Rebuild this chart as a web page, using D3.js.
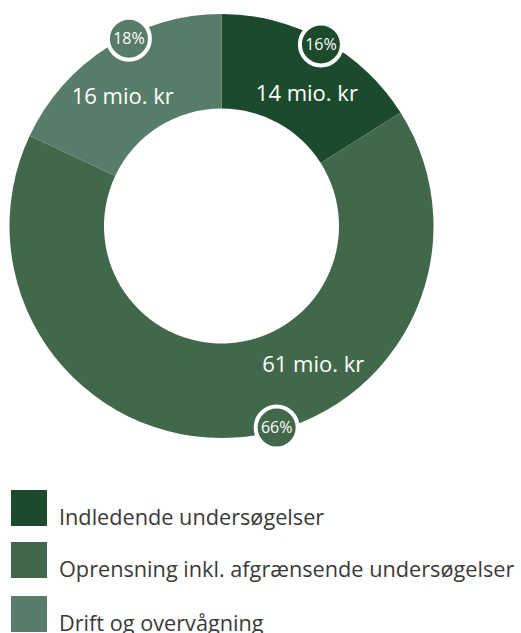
<!DOCTYPE html>
<html>
<head>
<meta charset="utf-8">
<script src="https://cdn.jsdelivr.net/npm/d3@7"></script>
<style>
  html, body { margin: 0; padding: 0; background: #ffffff; }
  svg { display: block; }
</style>
</head>
<body>
<svg id="chart" width="521" height="633"></svg>
<script>
// ---- data ----
const categories = ["Indledende undersøgelser", "Oprensning inkl. afgrænsende undersøgelser", "Drift og overvågning"];
const amounts = [14, 61, 16];          // mio. kr
const percents = [16, 66, 18];         // share in %
const colors = ["#1c4a2c", "#42684b", "#577c69"];

// ---- layout ----
const W = 521, H = 633;
const cx = 221.5, cy = 226;
const outerR = 212, innerR = 117.5;
// angular positions (degrees, clockwise from north) for labels and badges
const labelPos = [{a: 32.7, r: 158}, {a: 146.4, r: 165.7}, {a: 322.8, r: 163.3}];
const badgePos = [{a: 28.7, r: 207}, {a: 164.7, r: 209}, {a: 333.7, r: 209}];
const FONT = "'Open Sans', Roboto, 'Liberation Sans', sans-serif";

const svg = d3.select("#chart");
const g = svg.append("g").attr("transform", `translate(${cx},${cy})`);

const pie = d3.pie().sort(null).value(d => d);
const arcs = pie(percents);
const arc = d3.arc().innerRadius(innerR).outerRadius(outerR);

g.selectAll("path.slice")
  .data(arcs)
  .join("path")
  .attr("class", "slice")
  .attr("d", arc)
  .attr("fill", (d, i) => colors[i]);

const rad = deg => deg * Math.PI / 180;
const px = p => Math.sin(rad(p.a)) * p.r;
const py = p => -Math.cos(rad(p.a)) * p.r;

// value labels
g.selectAll("text.val")
  .data(amounts)
  .join("text")
  .attr("class", "val")
  .attr("x", (d, i) => px(labelPos[i]))
  .attr("y", (d, i) => py(labelPos[i]))
  .attr("dy", "0.36em")
  .attr("text-anchor", "middle")
  .attr("fill", "#ffffff")
  .style("font-family", FONT)
  .style("font-size", "22px")
  .text(d => `${d} mio. kr`);

// percent badges
const badges = g.selectAll("g.badge")
  .data(percents)
  .join("g")
  .attr("class", "badge")
  .attr("transform", (d, i) => `translate(${px(badgePos[i])},${py(badgePos[i])})`);

badges.append("circle")
  .attr("r", 21)
  .attr("fill", (d, i) => colors[i])
  .attr("stroke", "#ffffff")
  .attr("stroke-width", 4);

badges.append("text")
  .attr("text-anchor", "middle")
  .attr("dy", "0.36em")
  .attr("fill", "#ffffff")
  .style("font-family", FONT)
  .style("font-size", "16px")
  .text(d => `${d}%`);

// legend
const legendY = [490, 542, 596];
const leg = svg.selectAll("g.leg")
  .data(categories)
  .join("g")
  .attr("class", "leg")
  .attr("transform", (d, i) => `translate(11,${legendY[i]})`);

leg.append("rect")
  .attr("width", 36)
  .attr("height", 36)
  .attr("fill", (d, i) => colors[i]);

leg.append("text")
  .attr("x", 48)
  .attr("y", 35)
  .attr("fill", "#3a3a3a")
  .style("font-family", FONT)
  .style("font-size", "21.7px")
  .text(d => d);
</script>
</body>
</html>
